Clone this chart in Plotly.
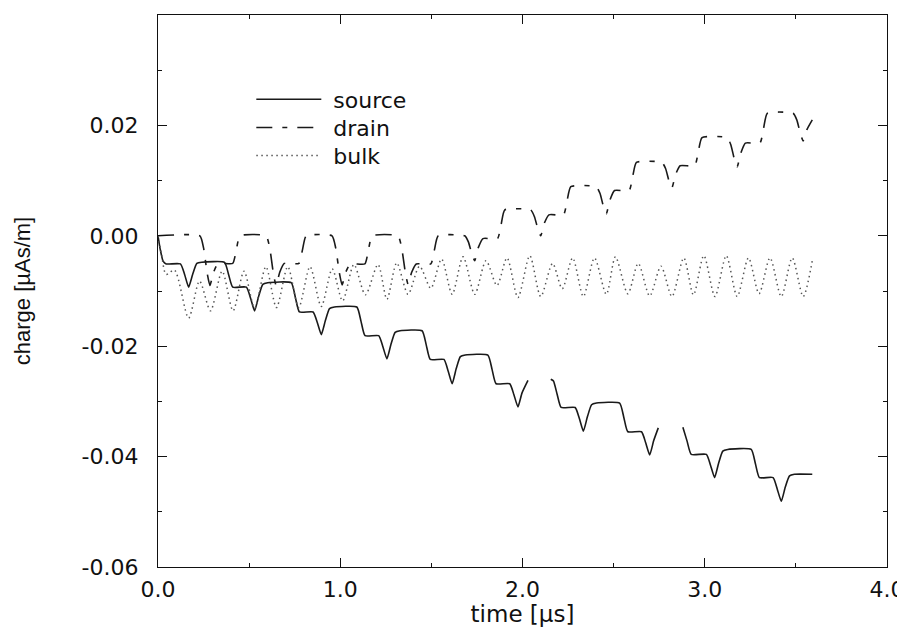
import plotly.graph_objects as go

# source charge (solid); None = gap in the original trace
src_t = [0.000, 0.012, 0.028, 0.045,
         0.123, 0.146, 0.168, 0.190, 0.213, 0.240,
         0.365, 0.388, 0.410,
         0.485, 0.508, 0.530, 0.552, 0.575, 0.602,
         0.731, 0.754, 0.776,
         0.851, 0.874, 0.896, 0.918, 0.941, 0.968,
         1.091, 1.114, 1.136,
         1.211, 1.234, 1.256, 1.278, 1.301, 1.328,
         1.449, 1.472, 1.494,
         1.569, 1.592, 1.614, 1.636, 1.659, 1.686,
         1.810, 1.833, 1.855,
         1.930, 1.953, 1.975, 1.997, 2.030,
         None,
         2.155, 2.170, 2.190, 2.212,
         2.289, 2.312, 2.334, 2.356, 2.379, 2.406,
         2.533, 2.556, 2.578,
         2.653, 2.676, 2.698, 2.720, 2.745,
         None,
         2.880, 2.903, 2.926,
         3.009, 3.032, 3.054, 3.076, 3.099, 3.126,
         3.255, 3.278, 3.300,
         3.375, 3.398, 3.420, 3.442, 3.465, 3.492,
         3.590]
src_q = [0.0, -0.0024, -0.0046, -0.0051,
         -0.0051, -0.0070, -0.0093, -0.0070, -0.0050, -0.0048,
         -0.0048, -0.0071, -0.0093,
         -0.0093, -0.0113, -0.0136, -0.0110, -0.0088, -0.0085,
         -0.0085, -0.0112, -0.0138,
         -0.0138, -0.0157, -0.0179, -0.0154, -0.0132, -0.0129,
         -0.0129, -0.0155, -0.0181,
         -0.0181, -0.0201, -0.0223, -0.0197, -0.0175, -0.0172,
         -0.0172, -0.0198, -0.0224,
         -0.0224, -0.0245, -0.0268, -0.0241, -0.0219, -0.0216,
         -0.0216, -0.0242, -0.0268,
         -0.0268, -0.0288, -0.0310, -0.0285, -0.0262,
         None,
         -0.0260, -0.0263, -0.0287, -0.0311,
         -0.0311, -0.0331, -0.0354, -0.0328, -0.0306, -0.0303,
         -0.0303, -0.0329, -0.0355,
         -0.0355, -0.0375, -0.0397, -0.0371, -0.0348,
         None,
         -0.0347, -0.0372, -0.0396,
         -0.0396, -0.0416, -0.0438, -0.0412, -0.0390, -0.0387,
         -0.0387, -0.0413, -0.0438,
         -0.0438, -0.0459, -0.0481, -0.0455, -0.0435, -0.0432,
         -0.0432]

# drain charge (dash-dot)
drn_t = [0.000,
         0.230, 0.250, 0.270, 0.285, 0.305, 0.330, 0.410, 0.430, 0.450,
         0.593, 0.613, 0.633, 0.648, 0.668, 0.693, 0.773, 0.793, 0.813,
         0.955, 0.975, 0.995, 1.010, 1.030, 1.055, 1.135, 1.155, 1.175,
         1.317, 1.337, 1.357, 1.372, 1.392, 1.417, 1.497, 1.517, 1.537,
         1.683, 1.703, 1.723, 1.738, 1.758, 1.783, 1.863, 1.883, 1.903,
         2.045, 2.065, 2.085, 2.100, 2.120, 2.145, 2.225, 2.245, 2.265,
         2.405, 2.425, 2.445, 2.460, 2.480, 2.505, 2.585, 2.605, 2.625,
         2.765, 2.785, 2.805, 2.820, 2.840, 2.865, 2.945, 2.965, 2.985,
         3.123, 3.143, 3.163, 3.178, 3.198, 3.223, 3.303, 3.323, 3.343,
         3.485, 3.505, 3.525, 3.540, 3.560, 3.590]
drn_q = [0.0,
         0.0, -0.0022, -0.0068, -0.0090, -0.0066, -0.0050, -0.0050, -0.0025, 0.0,
         0.0, -0.0022, -0.0068, -0.0090, -0.0066, -0.0050, -0.0050, -0.0025, 0.0,
         0.0, -0.0022, -0.0067, -0.0089, -0.0066, -0.0051, -0.0051, -0.0025, 0.0,
         0.0, -0.0022, -0.0066, -0.0088, -0.0066, -0.0051, -0.0051, -0.0025, 0.0,
         0.0, -0.0011, -0.0034, -0.0045, -0.0021, -0.0005, -0.0005, 0.0021, 0.0047,
         0.0047, 0.0035, 0.0012, 0.0000, 0.0023, 0.0038, 0.0038, 0.0064, 0.0089,
         0.0089, 0.0077, 0.0052, 0.0040, 0.0065, 0.0082, 0.0082, 0.0108, 0.0133,
         0.0133, 0.0122, 0.0098, 0.0087, 0.0111, 0.0127, 0.0127, 0.0153, 0.0178,
         0.0178, 0.0165, 0.0138, 0.0125, 0.0150, 0.0168, 0.0168, 0.0195, 0.0222,
         0.0222, 0.0210, 0.0185, 0.0172, 0.0192, 0.0210]

# bulk charge (dotted)
blk_t = [0.000, 0.020, 0.045, 0.090,
         0.168, 0.228, 0.288, 0.352, 0.412, 0.472, 0.530, 0.592, 0.650, 0.712,
         0.772, 0.834, 0.896, 0.956, 1.013, 1.075, 1.138, 1.207, 1.256, 1.310,
         1.372, 1.435, 1.497, 1.556, 1.614, 1.674, 1.738, 1.800, 1.860, 1.915,
         1.975, 2.040, 2.100, 2.165, 2.218, 2.275, 2.334, 2.395, 2.460, 2.510,
         2.578, 2.635, 2.698, 2.760, 2.820, 2.885, 2.938, 2.995, 3.056, 3.118,
         3.178, 3.240, 3.298, 3.358, 3.420, 3.480, 3.540, 3.590]
blk_q = [0.0, -0.0035, -0.0070, -0.0062,
         -0.0149, -0.0082, -0.0136, -0.0064, -0.0136, -0.0064, -0.0131, -0.0056, -0.0130, -0.0056,
         -0.0130, -0.0056, -0.0128, -0.0060, -0.0118, -0.0052, -0.0107, -0.0052, -0.0115, -0.0049,
         -0.0106, -0.0055, -0.0095, -0.0042, -0.0106, -0.0038, -0.0106, -0.0045, -0.0090, -0.0040,
         -0.0112, -0.0036, -0.0110, -0.0050, -0.0096, -0.0040, -0.0110, -0.0040, -0.0106, -0.0038,
         -0.0105, -0.0050, -0.0109, -0.0055, -0.0110, -0.0040, -0.0107, -0.0036, -0.0110, -0.0036,
         -0.0110, -0.0040, -0.0105, -0.0040, -0.0110, -0.0040, -0.0110, -0.0045]

y_ticks = [-0.06, -0.04, -0.02, 0.0, 0.02]
y_labels = ["-0.06", "-0.04", "-0.02", "0.00", "0.02"]
x_ticks = [0, 1, 2, 3, 4]
x_labels = ["0.0", "1.0", "2.0", "3.0", "4.0"]

ink = '#111111'
txt_font = dict(family='DejaVu Sans', size=22, color=ink)

fig = go.Figure()
fig.add_trace(go.Scatter(x=src_t, y=src_q, mode='lines', name='\u00a0source', legend='legend',
                         line=dict(color='#1a1a1a', width=1.6, shape='spline', smoothing=0.5)))
fig.add_trace(go.Scatter(x=drn_t, y=drn_q, mode='lines', name='\u00a0drain', legend='legend2',
                         line=dict(color='#1a1a1a', width=1.6, shape='spline', smoothing=0.5,
                                   dash='16px,10px,5px,10px')))
fig.add_trace(go.Scatter(x=blk_t, y=blk_q, mode='lines', name='\u00a0bulk', legend='legend3',
                         line=dict(color='#555555', width=1.5, shape='spline', smoothing=0.8,
                                   dash='1.5px,3.5px')))

# one legend box per entry so the rows sit as close as in the original
leg = dict(x=0.128, xanchor='left', yanchor='top', bgcolor='rgba(0,0,0,0)',
           font=txt_font, itemwidth=65)

fig.update_layout(
    width=905, height=627,
    margin=dict(l=150, r=26, t=7, b=68),
    paper_bgcolor='white', plot_bgcolor='white',
    showlegend=True,
    legend=dict(leg, y=0.885),
    legend2=dict(leg, y=0.834),
    legend3=dict(leg, y=0.783),
)
fig.update_xaxes(range=[0, 4], tickvals=x_ticks, ticktext=x_labels, tickfont=txt_font,
                 showgrid=False, zeroline=False, showline=True, linecolor=ink, linewidth=1.2,
                 mirror='ticks', ticks='inside', ticklen=9, tickcolor=ink,
                 ticklabelstandoff=2,
                 minor=dict(ticks='inside', ticklen=4, dtick=0.5, tick0=0, tickcolor=ink),
                 title=dict(text='time [µs]', font=dict(family='DejaVu Sans', size=23, color=ink),
                            standoff=0))
fig.update_yaxes(range=[-0.06, 0.04], tickvals=y_ticks, ticktext=y_labels, tickfont=txt_font,
                 showgrid=False, zeroline=False, showline=True, linecolor=ink, linewidth=1.2,
                 mirror='ticks', ticks='inside', ticklen=9, tickcolor=ink,
                 ticklabelstandoff=14,
                 minor=dict(ticks='inside', ticklen=4, dtick=0.01, tick0=0, tickcolor=ink),
                 title=dict(text='charge [µAs/m]', font=dict(family='Liberation Sans', size=22, color=ink),
                            standoff=44))

fig.write_html("out.html")
